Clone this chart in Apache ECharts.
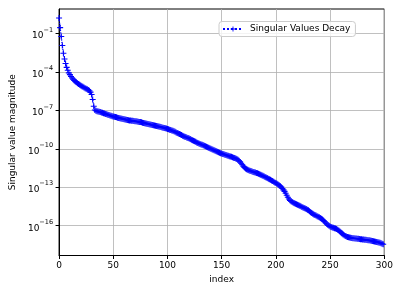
<!DOCTYPE html>
<html>
<head>
<meta charset="utf-8">
<script src="https://cdn.jsdelivr.net/npm/echarts@6/dist/echarts.min.js"></script>
<style>
html,body{margin:0;padding:0;background:#fff;}
#chart{width:399px;height:291px;}
</style>
</head>
<body>
<div id="chart"></div>
<script>
// log10 of the singular values (index 0..299)
const log10Values = [
 0.20,-0.55,-1.25,-1.95,-2.55,-3.00,-3.35,-3.65,-3.88,-4.08,
-4.22,-4.36,-4.48,-4.58,-4.67,-4.75,-4.82,-4.89,-4.95,-5.01,
-5.06,-5.12,-5.17,-5.22,-5.27,-5.32,-5.36,-5.41,-5.47,-5.58,
-5.76,-6.15,-6.68,-6.98,-7.04,-7.07,-7.09,-7.12,-7.14,-7.17,
-7.19,-7.22,-7.25,-7.28,-7.31,-7.34,-7.37,-7.40,-7.43,-7.46,
-7.49,-7.51,-7.53,-7.55,-7.57,-7.59,-7.61,-7.63,-7.65,-7.67,
-7.69,-7.71,-7.73,-7.75,-7.77,-7.79,-7.80,-7.81,-7.82,-7.84,
-7.85,-7.86,-7.88,-7.89,-7.91,-7.92,-7.94,-7.96,-7.98,-8.00,
-8.02,-8.04,-8.06,-8.08,-8.10,-8.12,-8.14,-8.16,-8.19,-8.21,
-8.23,-8.25,-8.27,-8.29,-8.31,-8.33,-8.35,-8.37,-8.40,-8.42,
-8.45,-8.48,-8.51,-8.54,-8.57,-8.60,-8.64,-8.68,-8.72,-8.76,
-8.80,-8.84,-8.89,-8.93,-8.98,-9.02,-9.06,-9.09,-9.13,-9.16,
-9.20,-9.24,-9.29,-9.33,-9.38,-9.42,-9.46,-9.50,-9.54,-9.58,
-9.62,-9.66,-9.69,-9.73,-9.76,-9.80,-9.84,-9.88,-9.92,-9.96,
-10.00,-10.04,-10.08,-10.12,-10.16,-10.20,-10.23,-10.27,-10.30,-10.34,
-10.37,-10.40,-10.43,-10.46,-10.49,-10.52,-10.55,-10.58,-10.61,-10.63,
-10.66,-10.69,-10.72,-10.75,-10.80,-10.86,-10.93,-11.02,-11.13,-11.25,
-11.36,-11.45,-11.53,-11.59,-11.64,-11.68,-11.71,-11.74,-11.77,-11.80,
-11.82,-11.85,-11.88,-11.91,-11.94,-11.98,-12.02,-12.07,-12.11,-12.15,
-12.19,-12.24,-12.28,-12.33,-12.37,-12.42,-12.47,-12.52,-12.57,-12.62,
-12.67,-12.72,-12.78,-12.84,-12.91,-12.99,-13.09,-13.20,-13.32,-13.46,
-13.62,-13.78,-13.92,-14.02,-14.09,-14.15,-14.20,-14.24,-14.28,-14.32,
-14.36,-14.40,-14.44,-14.48,-14.53,-14.57,-14.61,-14.65,-14.70,-14.75,
-14.80,-14.87,-14.94,-15.01,-15.07,-15.12,-15.17,-15.21,-15.25,-15.29,
-15.34,-15.39,-15.45,-15.52,-15.60,-15.69,-15.78,-15.87,-15.94,-16.00,
-16.05,-16.09,-16.13,-16.16,-16.19,-16.22,-16.26,-16.31,-16.37,-16.44,
-16.52,-16.60,-16.68,-16.75,-16.80,-16.84,-16.87,-16.90,-16.92,-16.94,
-16.96,-16.97,-16.98,-16.99,-17.00,-17.01,-17.02,-17.03,-17.05,-17.06,
-17.07,-17.08,-17.09,-17.10,-17.12,-17.13,-17.14,-17.16,-17.17,-17.19,
-17.20,-17.22,-17.24,-17.26,-17.28,-17.30,-17.33,-17.36,-17.40,-17.44
];
const singularValues = log10Values.map(e => Math.pow(10, e));
const indices = singularValues.map((_, i) => i);
const xTicks = [0, 50, 100, 150, 200, 250, 300];
const yTickExponents = [-1, -4, -7, -10, -13, -16];
const yTicks = yTickExponents.map(e => Math.pow(10, e));
const seriesName = 'Singular Values Decay';
const xLabel = 'index';
const yLabel = 'Singular value magnitude';

const FONT = 'DejaVu Sans';
const plusPath = 'path://M0,4.1H10V5.9H0Z M4.1,0H5.9V10H4.1Z';

const chart = echarts.init(document.getElementById('chart'), null, {renderer: 'canvas'});
chart.setOption({
  animation: false,
  backgroundColor: '#ffffff',
  textStyle: {fontFamily: FONT},
  grid: {left: 53.3, right: 14.7, top: 9, bottom: 35.5, show: true,
         borderColor: '#000', borderWidth: 1, backgroundColor: 'transparent', containLabel: false},
  legend: {
    left: 219, top: 21.5,
    padding: [3, 5, 3, 3],
    backgroundColor: 'rgba(255,255,255,0.8)',
    borderColor: '#cccccc', borderWidth: 1, borderRadius: 3,
    itemWidth: 20, itemHeight: 6,
    textStyle: {fontFamily: FONT, fontSize: 9, color: '#000', padding: [0, 0, 0, 2]},
    data: [{name: seriesName}]
  },
  xAxis: {
    type: 'value', min: xTicks[0], max: xTicks[xTicks.length - 1], interval: 50,
    name: xLabel, nameLocation: 'middle', nameGap: 17,
    nameTextStyle: {fontFamily: FONT, fontSize: 9, color: '#000'},
    axisLine: {show: true, onZero: false, lineStyle: {color: '#000', width: 1}},
    axisTick: {show: true, inside: false, length: 3.5, lineStyle: {color: '#000', width: 1}},
    axisLabel: {fontFamily: FONT, fontSize: 9, color: '#000', margin: 6},
    splitLine: {show: true, lineStyle: {color: '#b0b0b0', width: 0.8}}
  },
  yAxis: {
    type: 'log', logBase: 10,
    min: Math.pow(10, -18.32), max: Math.pow(10, 0.9),
    name: yLabel, nameLocation: 'middle', nameGap: 37,
    nameTextStyle: {fontFamily: FONT, fontSize: 9, color: '#000'},
    axisLine: {show: true, onZero: false, lineStyle: {color: '#000', width: 1}},
    axisTick: {show: true, inside: false, length: 3.5, customValues: yTicks, lineStyle: {color: '#000', width: 1}},
    axisLabel: {
      customValues: yTicks, margin: 6, color: '#000',
      formatter: function (v) {
        const e = Math.round(Math.log10(v));
        return '{b|10}{s|\u2212' + Math.abs(e) + '}';
      },
      rich: {
        b: {fontFamily: FONT, fontSize: 9, color: '#000', verticalAlign: 'bottom', lineHeight: 14},
        s: {fontFamily: FONT, fontSize: 6.5, color: '#000', verticalAlign: 'top', lineHeight: 14}
      }
    },
    splitLine: {show: true, lineStyle: {color: '#b0b0b0', width: 0.8}}
  },
  series: [{
    name: seriesName,
    type: 'line',
    data: indices.map(i => [i, singularValues[i]]),
    symbol: plusPath, symbolSize: 6, showSymbol: true,
    itemStyle: {color: '#0000ff'},
    lineStyle: {color: '#0000ff', width: 1.2, type: 'dotted'},
    clip: true
  }]
});
</script>
</body>
</html>
